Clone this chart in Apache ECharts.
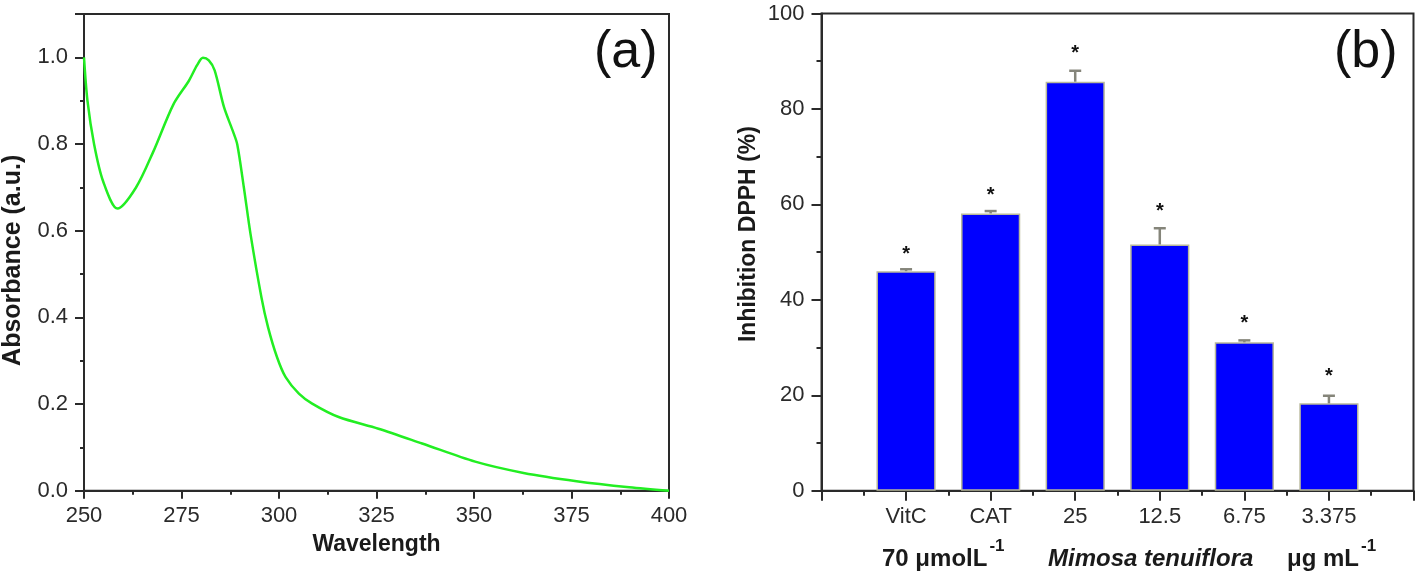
<!DOCTYPE html>
<html>
<head>
<meta charset="utf-8">
<script src="https://cdn.jsdelivr.net/npm/echarts@6/dist/echarts.min.js"></script>
<style>
html,body{margin:0;padding:0;background:#fff;}
#chart{width:1418px;height:577px;}
</style>
</head>
<body>
<div id="chart"></div>
<script>
// ---- Panel (a): UV-Vis spectrum ----
const wavelength = [250, 250.9, 252.6, 254.9, 258.6, 263.3, 267.8, 272.9, 276.9, 279.0, 280.5, 282.0, 283.5, 285.9, 288.2, 289.3, 291.0, 292.7, 295.5, 297.2, 299.5, 301.7, 305.1, 308.5, 315.3, 325.5, 336.7, 350.3, 362.7, 376.3, 389.8, 400];
const absorbance = [1.0, 0.899, 0.799, 0.714, 0.651, 0.699, 0.783, 0.891, 0.946, 0.982, 0.999, 0.993, 0.970, 0.885, 0.829, 0.799, 0.699, 0.592, 0.446, 0.377, 0.308, 0.262, 0.224, 0.201, 0.170, 0.143, 0.109, 0.067, 0.041, 0.022, 0.008, 0.0];

// ---- Panel (b): DPPH inhibition ----
const categories = ['VitC', 'CAT', '25', '12.5', '6.75', '3.375'];
const inhibition = [46.0, 58.1, 85.7, 51.6, 31.1, 18.3];
const errors = [0.4, 0.5, 2.3, 3.4, 0.4, 1.6];
const starLevels = [50.6, 63.0, 92.6, 59.5, 36.0, 24.9];
const groupLabels = ['70 μmolL', 'Mimosa tenuiflora', 'μg mL'];
const superscript = '-1';

const FONT = 'Liberation Sans, Arial, Helvetica, sans-serif';
const AXIS_COLOR = '#2a2a2a';

const curveData = wavelength.map((w, i) => [w, absorbance[i]]);
const barData = inhibition.map((v, i) => [i + 1, v]);
const errData = inhibition.map((v, i) => [i + 1, v, errors[i]]);
const starData = starLevels.map((v, i) => [i + 1, v]);

// measure text so the superscripts sit right after their base text
const mctx = document.createElement('canvas').getContext('2d');
function textWidth(txt, font) { mctx.font = font; return mctx.measureText(txt).width; }
const GROUP_FONT = 'bold 24px ' + FONT;
const SUP_FONT = 'bold 17px ' + FONT;
const g0Left = 882, g2Left = 1287;
const sup0Left = g0Left + textWidth(groupLabels[0], GROUP_FONT) + 2;
const sup2Left = g2Left + textWidth(groupLabels[2], GROUP_FONT) + 2;

const commonAxisLine = { lineStyle: { color: AXIS_COLOR, width: 2 } };
const tickLabel = { color: '#2a2a2a', fontSize: 22, fontFamily: FONT };

const chart = echarts.init(document.getElementById('chart'), null, { renderer: 'canvas' });
chart.setOption({
  backgroundColor: '#ffffff',
  animation: false,
  grid: [
    { left: 81.5, top: 14, width: 587.5, height: 476.7, show: true, borderColor: AXIS_COLOR, borderWidth: 2, containLabel: false },
    { left: 821.5, top: 13.5, width: 592, height: 477.2, show: true, borderColor: AXIS_COLOR, borderWidth: 2, containLabel: false }
  ],
  xAxis: [
    {
      gridIndex: 0, type: 'value', min: 250, max: 400, interval: 25,
      name: 'Wavelength', nameLocation: 'middle', nameGap: 42,
      nameTextStyle: { fontSize: 23, fontWeight: 'bold', fontFamily: FONT, color: '#1a1a1a' },
      axisLine: commonAxisLine,
      axisTick: { show: true, inside: false, length: 8, lineStyle: { color: AXIS_COLOR, width: 2 } },
      minorTick: { show: true, splitNumber: 2, length: 4, lineStyle: { color: AXIS_COLOR, width: 2 } },
      axisLabel: Object.assign({ margin: 14 }, tickLabel),
      splitLine: { show: false }
    },
    {
      gridIndex: 1, type: 'value', min: 0, max: 7, interval: 1,
      axisLine: commonAxisLine,
      axisTick: { show: true, inside: false, length: 10, lineStyle: { color: AXIS_COLOR, width: 2 } },
      minorTick: { show: true, splitNumber: 2, length: 5, lineStyle: { color: AXIS_COLOR, width: 2 } },
      axisLabel: Object.assign({ margin: 15, formatter: v => categories[v - 1] || '' }, tickLabel),
      splitLine: { show: false }
    }
  ],
  yAxis: [
    {
      gridIndex: 0, type: 'value', min: 0, max: 1.1, interval: 0.2,
      name: 'Absorbance (a.u.)', nameLocation: 'middle', nameGap: 58,
      nameTextStyle: { fontSize: 25, fontWeight: 'bold', fontFamily: FONT, color: '#1a1a1a', padding: [0, 16, 0, 0] },
      axisLine: commonAxisLine,
      axisTick: { show: true, inside: false, length: 9, lineStyle: { color: AXIS_COLOR, width: 2 } },
      minorTick: { show: true, splitNumber: 2, length: 4, lineStyle: { color: AXIS_COLOR, width: 2 } },
      axisLabel: Object.assign({ margin: 16, showMaxLabel: false, formatter: v => v.toFixed(1) }, tickLabel),
      splitLine: { show: false }
    },
    {
      gridIndex: 1, type: 'value', min: 0, max: 100, interval: 20,
      name: 'Inhibition DPPH (%)', nameLocation: 'middle', nameGap: 61,
      nameTextStyle: { fontSize: 23, fontWeight: 'bold', fontFamily: FONT, color: '#1a1a1a', padding: [0, 0, 0, 36] },
      axisLine: commonAxisLine,
      axisTick: { show: true, inside: false, length: 10, lineStyle: { color: AXIS_COLOR, width: 2 } },
      minorTick: { show: true, splitNumber: 2, length: 5, lineStyle: { color: AXIS_COLOR, width: 2 } },
      axisLabel: Object.assign({ margin: 17 }, tickLabel),
      splitLine: { show: false }
    }
  ],
  series: [
    {
      type: 'line', xAxisIndex: 0, yAxisIndex: 0, data: curveData,
      smooth: 0.3, showSymbol: false,
      lineStyle: { color: '#22ee22', width: 2.5 }
    },
    {
      type: 'bar', xAxisIndex: 1, yAxisIndex: 1, data: barData,
      barWidth: '70%', z: 2,
      itemStyle: { color: '#0000ff', borderColor: '#b8b89a', borderWidth: 1.5 }
    },
    {
      type: 'custom', xAxisIndex: 1, yAxisIndex: 1, data: errData, z: 3,
      renderItem: function (params, api) {
        const x = api.value(0), v = api.value(1), e = api.value(2);
        const base = api.coord([x, v]);
        const top = api.coord([x, v + e]);
        return {
          type: 'group',
          children: [
            { type: 'line', shape: { x1: base[0], y1: base[1], x2: top[0], y2: top[1] }, style: { stroke: '#85857a', lineWidth: 2.5 } },
            { type: 'line', shape: { x1: top[0] - 6, y1: top[1], x2: top[0] + 6, y2: top[1] }, style: { stroke: '#85857a', lineWidth: 2.5 } }
          ]
        };
      }
    },
    {
      type: 'custom', xAxisIndex: 1, yAxisIndex: 1, data: starData, z: 3,
      renderItem: function (params, api) {
        const p = api.coord([api.value(0), api.value(1)]);
        return {
          type: 'text', x: p[0], y: p[1] + 5,
          style: { text: '*', fill: '#111', font: 'bold 20px ' + FONT, textAlign: 'center', textVerticalAlign: 'middle' }
        };
      }
    }
  ],
  graphic: [
    { type: 'text', left: 594, top: 27, style: { text: '(a)', font: '52px ' + FONT, fill: '#111' } },
    { type: 'text', left: 1334, top: 27, style: { text: '(b)', font: '52px ' + FONT, fill: '#111' } },
    { type: 'text', left: g0Left, top: 547, style: { text: groupLabels[0], font: GROUP_FONT, fill: '#1a1a1a' } },
    { type: 'text', left: sup0Left, top: 538, style: { text: superscript, font: SUP_FONT, fill: '#1a1a1a' } },
    { type: 'text', left: 1048, top: 547, style: { text: groupLabels[1], font: 'italic ' + GROUP_FONT, fill: '#1a1a1a' } },
    { type: 'text', left: g2Left, top: 547, style: { text: groupLabels[2], font: GROUP_FONT, fill: '#1a1a1a' } },
    { type: 'text', left: sup2Left, top: 538, style: { text: superscript, font: SUP_FONT, fill: '#1a1a1a' } }
  ]
});
</script>
</body>
</html>
